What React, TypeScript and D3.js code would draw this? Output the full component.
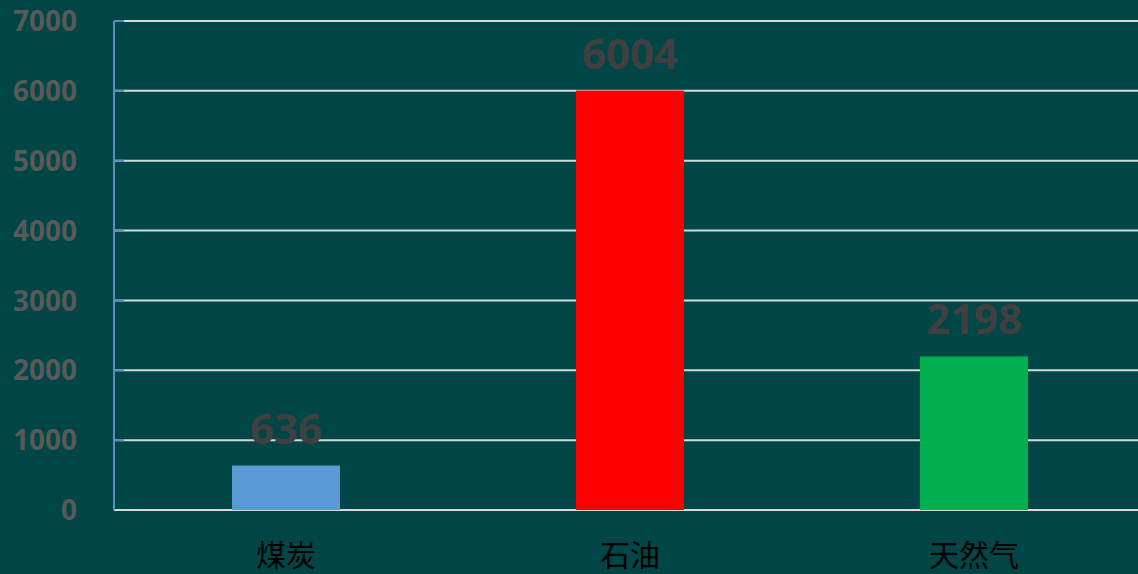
import React, { useEffect, useRef } from 'react';
import * as d3 from 'd3';

const categories: string[] = ['煤炭', '石油', '天然气'];
const values: number[] = [636, 6004, 2198];
const barColors: string[] = ['#5B9BD5', '#FF0000', '#00B050'];
const yTicks: number[] = [0, 1000, 2000, 3000, 4000, 5000, 6000, 7000];

const W = 1138;
const H = 574;

const App = () => {
  const ref = useRef<SVGSVGElement>(null);

  useEffect(() => {
    if (!ref.current) return;
    const svg = d3.select(ref.current);
    svg.selectAll('*').remove();

    const margin = { top: 21, left: 114, bottom: 64 };

    const x = d3.scaleBand<string>()
      .domain(categories)
      .range([margin.left, margin.left + 344 * categories.length])
      .paddingInner(0.686)
      .paddingOuter(0.343);

    const y = d3.scaleLinear()
      .domain([0, 7000])
      .range([H - margin.bottom, margin.top]);

    svg.append('rect')
      .attr('width', W)
      .attr('height', H)
      .attr('fill', '#004646');

    // gridlines
    svg.append('g')
      .selectAll('line')
      .data(yTicks)
      .enter().append('line')
      .attr('x1', margin.left)
      .attr('x2', W)
      .attr('y1', d => y(d))
      .attr('y2', d => y(d))
      .attr('stroke', '#D4D9D9')
      .attr('stroke-width', 2);

    // small tick marks
    svg.append('g')
      .selectAll('line')
      .data(yTicks.filter(d => d > 0))
      .enter().append('line')
      .attr('x1', margin.left)
      .attr('x2', margin.left + 10)
      .attr('y1', d => y(d))
      .attr('y2', d => y(d))
      .attr('stroke', '#5B8DC0')
      .attr('stroke-width', 2);

    // y axis line
    svg.append('line')
      .attr('x1', margin.left)
      .attr('x2', margin.left)
      .attr('y1', y(7000))
      .attr('y2', y(0))
      .attr('stroke', '#5B8DC0')
      .attr('stroke-width', 2);

    // y labels
    svg.append('g')
      .selectAll('text')
      .data(yTicks)
      .enter().append('text')
      .attr('x', 77)
      .attr('y', d => y(d))
      .attr('dy', '0.36em')
      .attr('text-anchor', 'end')
      .style('font-family', '"Noto Sans", sans-serif')
      .style('font-weight', 'bold')
      .style('font-size', '28px')
      .style('fill', '#595959')
      .text(d => String(d));

    // bars
    svg.append('g')
      .selectAll('rect')
      .data(values)
      .enter().append('rect')
      .attr('x', (d, i) => x(categories[i])!)
      .attr('y', d => y(d))
      .attr('width', x.bandwidth())
      .attr('height', d => y(0) - y(d))
      .attr('fill', (d, i) => barColors[i]);

    // value labels
    svg.append('g')
      .selectAll('text')
      .data(values)
      .enter().append('text')
      .attr('x', (d, i) => x(categories[i])! + x.bandwidth() / 2)
      .attr('y', d => y(d) - 22)
      .attr('text-anchor', 'middle')
      .style('font-family', '"Noto Sans", sans-serif')
      .style('font-weight', 'bold')
      .style('font-size', '42px')
      .style('fill', '#404040')
      .text(d => String(d));

    // category labels
    svg.append('g')
      .selectAll('text')
      .data(categories)
      .enter().append('text')
      .attr('x', d => x(d)! + x.bandwidth() / 2)
      .attr('y', 566)
      .attr('text-anchor', 'middle')
      .style('font-family', '"Noto Sans CJK SC", sans-serif')
      .style('font-size', '30px')
      .style('fill', '#000000')
      .text(d => d);
  }, []);

  return (
    <svg
      ref={ref}
      width={W}
      height={H}
      style={{ position: 'fixed', left: 0, top: 0, display: 'block' }}
    />
  );
};

export default App;
